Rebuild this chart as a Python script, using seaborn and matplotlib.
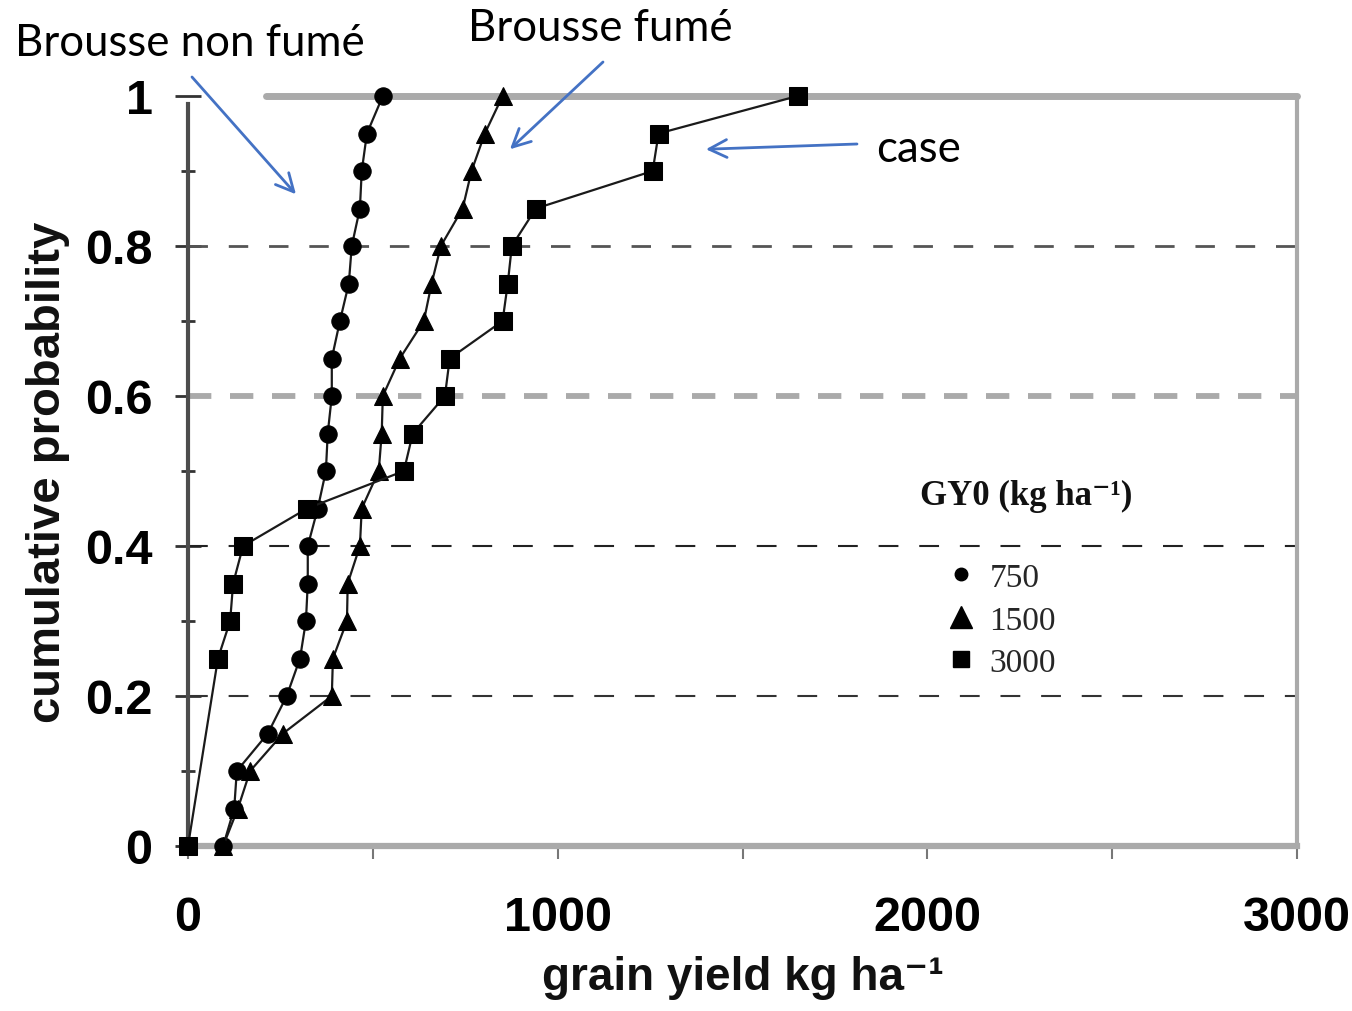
import matplotlib
matplotlib.use("Agg")
import matplotlib.pyplot as plt
import numpy as np
import pandas as pd
import seaborn as sns
from matplotlib.lines import Line2D

# Cumulative probability of grain yield for three GY0 levels
prob_750 = [0.00, 0.05, 0.10, 0.15, 0.20, 0.25, 0.30, 0.35, 0.40, 0.45, 0.50,
            0.55, 0.60, 0.65, 0.70, 0.75, 0.80, 0.85, 0.90, 0.95, 1.00]
yield_750 = [95, 125, 132, 216, 267, 303, 319, 324, 324, 351, 373,
             378, 389, 389, 411, 435, 443, 465, 470, 484, 527]

prob_1500 = [0.00, 0.05, 0.10, 0.15, 0.20, 0.25, 0.30, 0.35, 0.40, 0.45, 0.50,
             0.55, 0.60, 0.65, 0.70, 0.75, 0.80, 0.85, 0.90, 0.95, 1.00]
yield_1500 = [95, 135, 168, 257, 389, 392, 430, 432, 465, 470, 516,
              524, 527, 573, 638, 659, 684, 743, 767, 803, 851]

prob_3000 = [0.00, 0.25, 0.30, 0.35, 0.40, 0.45, 0.50, 0.55, 0.60, 0.65,
             0.70, 0.75, 0.80, 0.85, 0.90, 0.95, 1.00]
yield_3000 = [0, 81, 114, 122, 149, 322, 584, 608, 695, 708,
              851, 865, 876, 941, 1257, 1273, 1649]

series_labels = ["750", "1500", "3000"]
series_markers = ["o", "^", "s"]

x_ticks = [0, 1000, 2000, 3000]
x_minor_ticks = [500, 1500, 2500]
y_ticks = [0, 0.2, 0.4, 0.6, 0.8, 1.0]
y_tick_labels = ["0", "0.2", "0.4", "0.6", "0.8", "1"]
y_minor_ticks = [0.1, 0.3, 0.5, 0.7, 0.9]

zone_labels = ["Brousse non fumé", "Brousse fumé", "case"]
# arrow tips in data units (grain yield, cumulative probability)
zone_arrow_tips = [(292, 0.869), (871, 0.929), (1401, 0.929)]

frames = []
for lab, p, y in zip(series_labels,
                     [prob_750, prob_1500, prob_3000],
                     [yield_750, yield_1500, yield_3000]):
    frames.append(pd.DataFrame({"yield": y, "prob": p, "GY0": lab}))
df = pd.concat(frames, ignore_index=True)

sns.set_theme(style="white")
plt.rcParams["font.family"] = ["Liberation Sans", "DejaVu Sans"]

W, H = 1352, 1012
fig = plt.figure(figsize=(W / 100, H / 100), dpi=100)
ax = fig.add_axes([188 / W, 1 - 847 / H, (1297 - 188) / W, 750 / H])

# horizontal reference lines
ax.axhline(0.2, color="#333333", lw=1.5, ls=(0, (9.5, 10)), zorder=1)
ax.axhline(0.4, color="#222222", lw=1.5, ls=(0, (9.5, 10)), zorder=1)
ax.axhline(0.6, color="#aaaaaa", lw=4.2, ls=(0, (4, 3.2)), zorder=1)
ax.axhline(0.8, color="#555555", lw=2.0, ls=(0, (7, 7.5)), zorder=1)
ax.axhline(1.0, xmin=0.07, color="#aaaaaa", lw=5, zorder=1, clip_on=False)

sns.lineplot(data=df, x="yield", y="prob", hue="GY0", style="GY0",
             palette={k: "#1a1a1a" for k in series_labels},
             markers=dict(zip(series_labels, series_markers)),
             dashes=False, sort=False, estimator=None, legend=False,
             linewidth=1.6, markersize=12.5, markeredgecolor="black",
             markerfacecolor="black", ax=ax, zorder=5, clip_on=False)

ax.set_xlim(0, 3000)
ax.set_ylim(0, 1)
ax.set_xticks(x_ticks)
ax.set_xticks(x_minor_ticks, minor=True)
ax.set_yticks(y_ticks)
ax.set_yticklabels(y_tick_labels)
ax.set_yticks(y_minor_ticks, minor=True)

for lab in ax.get_xticklabels() + ax.get_yticklabels():
    lab.set_fontweight("bold")
    lab.set_fontsize(35)
    lab.set_color("black")

ax.tick_params(axis="y", which="major", direction="inout", length=19,
               width=2, color="#333333", pad=16, left=True)
ax.tick_params(axis="y", which="minor", direction="inout", length=10,
               width=2, color="#333333", left=True)
ax.tick_params(axis="x", which="both", direction="out", length=9,
               width=1.5, color="#777777", pad=26, bottom=True)

ax.spines["top"].set_visible(False)
ax.spines["left"].set_color("#4d4d4d")
ax.spines["left"].set_linewidth(3)
ax.spines["left"].set_bounds(0, 0.99)
ax.spines["bottom"].set_color("#aaaaaa")
ax.spines["bottom"].set_linewidth(4.5)
ax.spines["right"].set_color("#aaaaaa")
ax.spines["right"].set_linewidth(3)

ax.set_xlabel("grain yield kg ha⁻¹", fontsize=33, fontweight="bold",
              color="#111111")
ax.set_ylabel("cumulative probability", fontsize=34, fontweight="bold",
              color="#111111")
ax.xaxis.set_label_coords(0.5, -0.145)
ax.yaxis.set_label_coords(-0.106, 0.5)

# legend
handles = [Line2D([], [], ls="none", marker=m, color="black",
                  markersize=s)
           for m, s in zip(series_markers, [9, 16, 12])]
leg = ax.legend(handles, series_labels, loc="upper left",
                bbox_to_anchor=(0.655, 0.418), frameon=False,
                prop={"family": "Liberation Serif", "size": 24},
                handlelength=1.0, handletextpad=0.35, labelspacing=0.36)
fig.text(920 / W, 1 - 505 / H, "GY0 (kg ha⁻¹)",
         family=["Liberation Serif", "DejaVu Serif"], fontsize=25,
         fontweight="bold", color="#111111", ha="left", va="baseline")

# zone annotations
text_pos = [(15, 56), (468, 41), (876, 162)]
arrow_start = [(192, 78), (603, 63), (857, 145)]
for label, (tx, ty), (sx, sy), tip in zip(zone_labels, text_pos,
                                           arrow_start, zone_arrow_tips):
    fig.text(tx / W, 1 - ty / H, label, family=["Lato", "DejaVu Sans"],
             fontsize=31.5, color="black", ha="left", va="baseline")
    ax.annotate("", xy=tip, xycoords="data", xytext=(sx, H - sy),
                textcoords="figure pixels",
                arrowprops=dict(arrowstyle="->", color="#4472C4", lw=2,
                                mutation_scale=32, shrinkA=0, shrinkB=0),
                annotation_clip=False)

fig.savefig("out.png", dpi=100)
